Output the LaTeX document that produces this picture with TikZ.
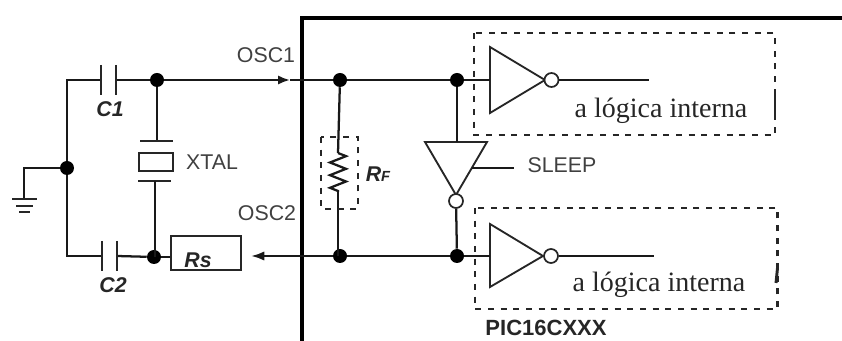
\documentclass[tikz,border=0pt]{standalone}
\usepackage{fontspec}
\setmainfont{Liberation Serif}
\setsansfont{Liberation Sans}
\usetikzlibrary{positioning, calc, arrows.meta, decorations.pathmorphing}
\tikzset{
	wire/.style={draw=black!90, line width=1.7pt},
	plate/.style={draw=black!85, line width=1.7pt},
	chip/.style={draw=black, line width=2.4pt},
	dot/.style={circle, fill=black, inner sep=0pt, minimum size=10.5pt},
	bubble/.style={circle, draw=black!85, fill=white, line width=1.3pt, inner sep=0pt, minimum size=10.5pt},
	logicbox/.style={draw=black!85, line width=1.6pt, dash pattern=on 4.5pt off 5pt},
	pinlabel/.style={font=\sffamily\fontsize{16}{16}\selectfont, text=black!75, inner sep=0pt},
	partlabel/.style={font=\sffamily\bfseries\itshape\fontsize{16}{16}\selectfont, text=black!85, inner sep=0pt},
	logiclabel/.style={font=\fontsize{21}{21}\selectfont, text=black!85, inner sep=0pt},
}

\begin{document}
\begin{tikzpicture}[x=0.75pt, y=-0.75pt]
	\useasboundingbox (0,0) rectangle (842,341);

	% chip outline
	\coordinate (chipbl) at (302,341);
	\coordinate (chiptl) at (302,18);
	\coordinate (chiptr) at (842,18);
	\draw[chip] (chipbl) -- (chiptl) -- (chiptr);

	% junctions
	\node[dot] (g) at (67,168) {};
	\node[dot] (j1) at (157,80) {};
	\node[dot] (j2) at (154,257) {};
	\node[dot] (a) at (340,80) {};
	\node[dot] (b) at (457,80) {};
	\node[dot] (c) at (340,256) {};
	\node[dot] (d) at (457,256) {};

	% ground
	\coordinate (gc) at (24,168);
	\coordinate (g1) at (24,199);
	\draw[wire] (g) -- (gc) -- (g1);
	\draw[plate] ($(g1)+(-12,0)$) -- ($(g1)+(13,0)$);
	\draw[plate] ($(g1)+(-8,7)$) -- ($(g1)+(9,7)$);
	\draw[plate] ($(g1)+(-5,13)$) -- ($(g1)+(6,13)$);

	% C1
	\coordinate (c1l) at (101,80);
	\coordinate (c1r) at (116,80);
	\coordinate (tl) at (67,80);
	\draw[wire] (g) -- (tl) -- (c1l);
	\draw[wire] (c1r) -- (j1);
	\draw[plate] ($(c1l)+(0,-15)$) -- ($(c1l)+(0,15)$);
	\draw[plate] ($(c1r)+(0,-15)$) -- ($(c1r)+(0,15)$);
	\node[partlabel] (c1label) at (110,109) {C1};

	% C2
	\coordinate (c2l) at (102,256);
	\coordinate (c2r) at (117,256);
	\coordinate (bl) at (67,256);
	\draw[wire] (g) -- (bl) -- (c2l);
	\draw[wire] (c2r) -- (j2);
	\draw[plate] ($(c2l)+(0,-15)$) -- ($(c2l)+(0,15)$);
	\draw[plate] ($(c2r)+(0,-15)$) -- ($(c2r)+(0,15)$);
	\node[partlabel] (c2label) at (113,285) {C2};

	% crystal
	\coordinate (xt) at (157,141);
	\coordinate (xb) at (155,181);
	\node[draw=black!85, line width=1.6pt, minimum width=25pt, minimum height=13.5pt, inner sep=0pt] (xtal) at (156,162) {};
	\draw[wire] (j1) -- (xt);
	\draw[plate] ($(xt)+(-17,0)$) -- ($(xt)+(16,0)$);
	\draw[plate] ($(xb)+(-17,0)$) -- ($(xb)+(16,0)$);
	\draw[wire] (xb) -- (xb |- j2);
	\node[pinlabel] (xtallabel) at (212,162) {XTAL};

	% Rs
	\node[draw=black!85, line width=1.6pt, minimum width=53pt, minimum height=26pt, inner sep=0pt] (rs) at (206,253) {};
	\node[partlabel] (rslabel) at (198,260) {Rs};
	\draw[wire] (j2) -- (rs.west |- j2);

	% OSC pins
	\coordinate (osc1tip) at (290,80);
	\coordinate (osc2tip) at (251,256);
	\draw[wire, -{Latex[length=9pt, width=7pt]}] (j1) -- (osc1tip);
	\draw[wire] (osc1tip) -- (a);
	\draw[wire, -{Latex[length=10pt, width=7pt]}] (c) -- (osc2tip);
	\node[pinlabel] (osc1) at (266,55) {OSC1};
	\node[pinlabel] (osc2) at (267,213) {OSC2};

	% RF
	\coordinate (rft) at (338,153);
	\coordinate (rfb) at (338,192);
	\draw[wire] (a) -- (rft);
	\draw[wire, decorate, decoration={zigzag, amplitude=6pt, segment length=9.5pt}] (rft) -- (rfb);
	\draw[wire] (rfb) -- (rfb |- c);
	\draw[logicbox] (321,137) rectangle (358,209);
	\node[partlabel] (rflabel) at (378,174) {R\fontsize{11}{11}\selectfont F};

	% wires between the pins
	\draw[wire] (a) -- (b);
	\draw[wire] (c) -- (d);

	% sleep inverter
	\coordinate (s1) at (425,142);
	\coordinate (s2) at (487,142);
	\coordinate (s3) at (456,195);
	\draw[draw=black!85, line width=1.4pt] (s1) -- (s2) -- (s3) -- cycle;
	\node[bubble] (sb) at (456,201) {};
	\draw[wire] (b) -- (b |- s1);
	\draw[wire] (sb) -- (d);
	\coordinate (sw) at (514,168);
	\draw[wire] (472,168) -- (sw);
	\node[pinlabel] (sleep) at (562,165) {SLEEP};

	% upper inverter
	\coordinate (u1) at (490,47);
	\coordinate (u2) at (490,113);
	\coordinate (u3) at (545,80);
	\coordinate (uin) at (490,80);
	\coordinate (uout) at (649,80);
	\draw[draw=black!85, line width=1.4pt] (u1) -- (u3) -- (u2) -- cycle;
	\node[bubble] (ub) at (551.5,80) {};
	\draw[wire] (b) -- (uin);
	\draw[wire] (ub) -- (uout);
	\draw[logicbox] (474,33) rectangle (775,135);
	\draw[line width=2.2pt, black!85] (775,95) -- (775,114);
	\node[logiclabel] (ulogic) at (661,111) {a lógica interna};

	% lower inverter
	\coordinate (l1) at (490,224);
	\coordinate (l2) at (490,287);
	\coordinate (l3) at (543,256);
	\coordinate (lin) at (490,256);
	\coordinate (lout) at (654,256);
	\draw[draw=black!85, line width=1.4pt] (l1) -- (l3) -- (l2) -- cycle;
	\node[bubble] (lb) at (551,256) {};
	\draw[wire] (d) -- (lin);
	\draw[wire] (lb) -- (lout);
	\draw[logicbox] (475,208) rectangle (777.5,309);
	\draw[line width=2.2pt, black!85] (777.5,268) -- (776,283);
	\node[logiclabel] (llogic) at (659,285) {a lógica interna};

	\node[pinlabel, font=\sffamily\bfseries\fontsize{16.5}{16.5}\selectfont, text=black!85] (pic) at (546,328) {PIC16CXXX};
\end{tikzpicture}
\end{document}
